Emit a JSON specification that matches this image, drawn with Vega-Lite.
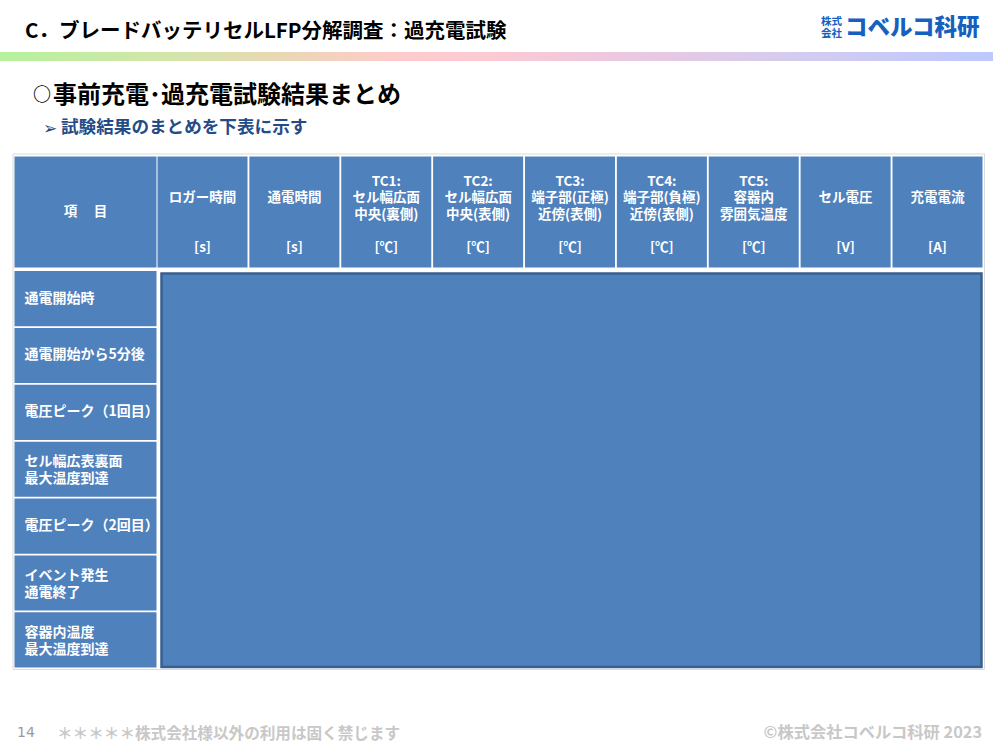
{
  "$schema": "https://vega.github.io/schema/vega-lite/v6.json",
  "width": 1000,
  "height": 750,
  "autosize": {"type": "none"},
  "padding": 0,
  "background": "#ffffff",
  "config": {"view": {"stroke": null}, "font": "Noto Sans CJK JP", "text": {"font": "Noto Sans CJK JP"}},
  "datasets": {
    "columns": [
      {"col": "ロガー時間", "label": "ロガー時間", "unit": "[s]"},
      {"col": "通電時間", "label": "通電時間", "unit": "[s]"},
      {"col": "TC1", "label": "TC1:\nセル幅広面\n中央(裏側)", "unit": "[℃]"},
      {"col": "TC2", "label": "TC2:\nセル幅広面\n中央(表側)", "unit": "[℃]"},
      {"col": "TC3", "label": "TC3:\n端子部(正極)\n近傍(表側)", "unit": "[℃]"},
      {"col": "TC4", "label": "TC4:\n端子部(負極)\n近傍(表側)", "unit": "[℃]"},
      {"col": "TC5", "label": "TC5:\n容器内\n雰囲気温度", "unit": "[℃]"},
      {"col": "セル電圧", "label": "セル電圧", "unit": "[V]"},
      {"col": "充電電流", "label": "充電電流", "unit": "[A]"}
    ],
    "rows": [
      {"row": "通電開始時"},
      {"row": "通電開始から5分後"},
      {"row": "電圧ピーク（1回目）"},
      {"row": "セル幅広表裏面\n最大温度到達"},
      {"row": "電圧ピーク（2回目）"},
      {"row": "イベント発生\n通電終了"},
      {"row": "容器内温度\n最大温度到達"}
    ],
    "merged": [
      {"from": "ロガー時間", "to": "充電電流", "top": "通電開始時", "bottom": "容器内温度\n最大温度到達"}
    ]
  },
  "layer": [
    {
      "data": {"values": [{}]},
      "mark": {"type": "rect", "color": {"gradient": "linear", "x1": 0, "y1": 0, "x2": 1, "y2": 0, "stops": [
        {"offset": 0, "color": "#b6f19e"},
        {"offset": 0.17, "color": "#d2e6a9"},
        {"offset": 0.28, "color": "#e8d8b4"},
        {"offset": 0.4, "color": "#ffcbcb"},
        {"offset": 0.5, "color": "#fbcad4"},
        {"offset": 0.65, "color": "#e8c8e2"},
        {"offset": 0.8, "color": "#d4ccef"},
        {"offset": 1, "color": "#bcc8ff"}
      ]}},
      "encoding": {"x": {"value": 0}, "x2": {"value": 993}, "y": {"value": 52}, "y2": {"value": 61}}
    },
    {
      "data": {"values": [{"t": "C．ブレードバッテリセルLFP分解調査：過充電試験"}]},
      "mark": {"type": "text", "align": "left", "baseline": "middle", "fontSize": 20.5, "fontWeight": "bold", "color": "#000000"},
      "encoding": {"text": {"field": "t"}, "x": {"value": 25}, "y": {"value": 32}}
    },
    {
      "data": {"values": [{"t": "株式\n会社"}]},
      "mark": {"type": "text", "align": "left", "baseline": "middle", "fontSize": 10.5, "fontWeight": "bold", "lineHeight": 11.5, "lineBreak": "\n", "color": "#1660c0"},
      "encoding": {"text": {"field": "t"}, "x": {"value": 821}, "y": {"value": 22}}
    },
    {
      "data": {"values": [{"t": "コベルコ科研"}]},
      "mark": {"type": "text", "align": "left", "baseline": "middle", "fontSize": 22.5, "fontWeight": 900, "color": "#1660c0"},
      "encoding": {"text": {"field": "t"}, "x": {"value": 845}, "y": {"value": 27.5}}
    },
    {
      "data": {"values": [{"t": "○"}]},
      "mark": {"type": "text", "align": "left", "baseline": "middle", "fontSize": 18, "fontWeight": "bold", "color": "#000000"},
      "encoding": {"text": {"field": "t"}, "x": {"value": 33}, "y": {"value": 96}}
    },
    {
      "data": {"values": [{"t": "事前充電･過充電試験結果まとめ"}]},
      "mark": {"type": "text", "align": "left", "baseline": "middle", "fontSize": 24, "fontWeight": "bold", "color": "#000000"},
      "encoding": {"text": {"field": "t"}, "x": {"value": 53}, "y": {"value": 96}}
    },
    {
      "data": {"values": [{"t": "➢"}]},
      "mark": {"type": "text", "align": "left", "baseline": "middle", "fontSize": 17, "font": "DejaVu Sans", "color": "#1f497d"},
      "encoding": {"text": {"field": "t"}, "x": {"value": 43}, "y": {"value": 129}}
    },
    {
      "data": {"values": [{"t": "試験結果のまとめを下表に示す"}]},
      "mark": {"type": "text", "align": "left", "baseline": "middle", "fontSize": 17.6, "fontWeight": "bold", "color": "#254b87"},
      "encoding": {"text": {"field": "t"}, "x": {"value": 61}, "y": {"value": 128}}
    },
    {
      "data": {"values": [{}]},
      "mark": {"type": "rect", "filled": false, "stroke": "#dadada", "strokeWidth": 1},
      "encoding": {"x": {"value": 13}, "x2": {"value": 984.5}, "y": {"value": 154}, "y2": {"value": 669.5}}
    },
    {
      "data": {"name": "columns"},
      "mark": {"type": "rect", "color": "#4f81bd"},
      "encoding": {
        "x": {"field": "col", "type": "nominal", "axis": null, "sort": null,
              "scale": {"type": "band", "domain": ["ロガー時間", "通電時間", "TC1", "TC2", "TC3", "TC4", "TC5", "セル電圧", "充電電流"], "range": [157.5, 982.5], "paddingInner": 0.02, "paddingOuter": 0}},
        "y": {"datum": "見出し", "type": "nominal", "axis": null,
              "scale": {"type": "band", "domain": ["見出し"], "range": [156.5, 267.5], "paddingInner": 0, "paddingOuter": 0}}
      }
    },
    {
      "data": {"name": "columns"},
      "transform": [{"filter": "indexof(datum.label, '\\n') < 0"}],
      "mark": {"type": "text", "align": "center", "baseline": "middle", "fontSize": 13.5, "fontWeight": "bold", "color": "#ffffff", "dy": -14.5},
      "encoding": {
        "text": {"field": "label"},
        "x": {"field": "col", "type": "nominal", "axis": null, "sort": null,
              "scale": {"type": "band", "domain": ["ロガー時間", "通電時間", "TC1", "TC2", "TC3", "TC4", "TC5", "セル電圧", "充電電流"], "range": [157.5, 982.5], "paddingInner": 0.02, "paddingOuter": 0}},
        "y": {"datum": "見出し", "type": "nominal", "axis": null,
              "scale": {"type": "band", "domain": ["見出し"], "range": [156.5, 267.5], "paddingInner": 0, "paddingOuter": 0}}
      }
    },
    {
      "data": {"name": "columns"},
      "transform": [{"filter": "indexof(datum.label, '\\n') >= 0"}],
      "mark": {"type": "text", "align": "center", "baseline": "middle", "fontSize": 13.5, "fontWeight": "bold", "color": "#ffffff", "lineBreak": "\n", "lineHeight": 16.5, "dy": -30.5},
      "encoding": {
        "text": {"field": "label"},
        "x": {"field": "col", "type": "nominal", "axis": null, "sort": null,
              "scale": {"type": "band", "domain": ["ロガー時間", "通電時間", "TC1", "TC2", "TC3", "TC4", "TC5", "セル電圧", "充電電流"], "range": [157.5, 982.5], "paddingInner": 0.02, "paddingOuter": 0}},
        "y": {"datum": "見出し", "type": "nominal", "axis": null,
              "scale": {"type": "band", "domain": ["見出し"], "range": [156.5, 267.5], "paddingInner": 0, "paddingOuter": 0}}
      }
    },
    {
      "data": {"name": "columns"},
      "mark": {"type": "text", "align": "center", "baseline": "middle", "fontSize": 13.5, "fontWeight": "bold", "color": "#ffffff", "dy": 35.5},
      "encoding": {
        "text": {"field": "unit"},
        "x": {"field": "col", "type": "nominal", "axis": null, "sort": null,
              "scale": {"type": "band", "domain": ["ロガー時間", "通電時間", "TC1", "TC2", "TC3", "TC4", "TC5", "セル電圧", "充電電流"], "range": [157.5, 982.5], "paddingInner": 0.02, "paddingOuter": 0}},
        "y": {"datum": "見出し", "type": "nominal", "axis": null,
              "scale": {"type": "band", "domain": ["見出し"], "range": [156.5, 267.5], "paddingInner": 0, "paddingOuter": 0}}
      }
    },
    {
      "data": {"values": [{"item": "項　 目"}]},
      "mark": {"type": "rect", "color": "#4f81bd"},
      "encoding": {
        "x": {"field": "item", "type": "nominal", "axis": null,
              "scale": {"type": "band", "domain": ["項　 目"], "range": [14.5, 156.5], "paddingInner": 0, "paddingOuter": 0}},
        "y": {"datum": "見出し", "type": "nominal", "axis": null,
              "scale": {"type": "band", "domain": ["見出し"], "range": [156.5, 267.5], "paddingInner": 0, "paddingOuter": 0}}
      }
    },
    {
      "data": {"values": [{"item": "項　 目"}]},
      "mark": {"type": "text", "align": "center", "baseline": "middle", "fontSize": 13.5, "fontWeight": "bold", "color": "#ffffff"},
      "encoding": {
        "text": {"field": "item"},
        "x": {"field": "item", "type": "nominal", "axis": null,
              "scale": {"type": "band", "domain": ["項　 目"], "range": [14.5, 156.5], "paddingInner": 0, "paddingOuter": 0}},
        "y": {"datum": "見出し", "type": "nominal", "axis": null,
              "scale": {"type": "band", "domain": ["見出し"], "range": [156.5, 267.5], "paddingInner": 0, "paddingOuter": 0}}
      }
    },
    {
      "data": {"name": "rows"},
      "mark": {"type": "rect", "color": "#4f81bd"},
      "encoding": {
        "x": {"datum": "項　 目", "type": "nominal", "axis": null,
              "scale": {"type": "band", "domain": ["項　 目"], "range": [14.5, 156.5], "paddingInner": 0, "paddingOuter": 0}},
        "y": {"field": "row", "type": "nominal", "axis": null, "sort": null,
              "scale": {"type": "band", "domain": ["通電開始時", "通電開始から5分後", "電圧ピーク（1回目）", "セル幅広表裏面\n最大温度到達", "電圧ピーク（2回目）", "イベント発生\n通電終了", "容器内温度\n最大温度到達"], "range": [271, 667.5], "paddingInner": 0.03, "paddingOuter": 0}}
      }
    },
    {
      "data": {"name": "rows"},
      "transform": [{"filter": "indexof(datum.row, '\\n') < 0"}],
      "mark": {"type": "text", "align": "left", "baseline": "middle", "fontSize": 14, "fontWeight": "bold", "color": "#ffffff", "dx": 10},
      "encoding": {
        "text": {"field": "row"},
        "x": {"datum": "項　 目", "type": "nominal", "axis": null, "bandPosition": 0,
              "scale": {"type": "band", "domain": ["項　 目"], "range": [14.5, 156.5], "paddingInner": 0, "paddingOuter": 0}},
        "y": {"field": "row", "type": "nominal", "axis": null, "sort": null,
              "scale": {"type": "band", "domain": ["通電開始時", "通電開始から5分後", "電圧ピーク（1回目）", "セル幅広表裏面\n最大温度到達", "電圧ピーク（2回目）", "イベント発生\n通電終了", "容器内温度\n最大温度到達"], "range": [271, 667.5], "paddingInner": 0.03, "paddingOuter": 0}}
      }
    },
    {
      "data": {"name": "rows"},
      "transform": [{"filter": "indexof(datum.row, '\\n') >= 0"}],
      "mark": {"type": "text", "align": "left", "baseline": "middle", "fontSize": 14, "fontWeight": "bold", "color": "#ffffff", "lineBreak": "\n", "lineHeight": 16.7, "dx": 10, "dy": -7},
      "encoding": {
        "text": {"field": "row"},
        "x": {"datum": "項　 目", "type": "nominal", "axis": null, "bandPosition": 0,
              "scale": {"type": "band", "domain": ["項　 目"], "range": [14.5, 156.5], "paddingInner": 0, "paddingOuter": 0}},
        "y": {"field": "row", "type": "nominal", "axis": null, "sort": null,
              "scale": {"type": "band", "domain": ["通電開始時", "通電開始から5分後", "電圧ピーク（1回目）", "セル幅広表裏面\n最大温度到達", "電圧ピーク（2回目）", "イベント発生\n通電終了", "容器内温度\n最大温度到達"], "range": [271, 667.5], "paddingInner": 0.03, "paddingOuter": 0}}
      }
    },
    {
      "data": {"name": "merged"},
      "mark": {"type": "rect", "color": "#4f81bd", "stroke": "#3a5f8e", "strokeWidth": 2.5, "xOffset": 4, "x2Offset": -1, "yOffset": 2.5, "y2Offset": -0.5},
      "encoding": {
        "x": {"field": "from", "type": "nominal", "axis": null, "bandPosition": 0,
              "scale": {"type": "band", "domain": ["ロガー時間", "通電時間", "TC1", "TC2", "TC3", "TC4", "TC5", "セル電圧", "充電電流"], "range": [157.5, 982.5], "paddingInner": 0.02, "paddingOuter": 0}},
        "x2": {"field": "to", "bandPosition": 1},
        "y": {"field": "top", "type": "nominal", "axis": null, "bandPosition": 0,
              "scale": {"type": "band", "domain": ["通電開始時", "通電開始から5分後", "電圧ピーク（1回目）", "セル幅広表裏面\n最大温度到達", "電圧ピーク（2回目）", "イベント発生\n通電終了", "容器内温度\n最大温度到達"], "range": [271, 667.5], "paddingInner": 0.03, "paddingOuter": 0}},
        "y2": {"field": "bottom", "bandPosition": 1}
      }
    },
    {
      "data": {"values": [{"t": "14"}]},
      "mark": {"type": "text", "align": "left", "baseline": "middle", "fontSize": 14, "font": "DejaVu Sans", "color": "#9a9a9a"},
      "encoding": {"text": {"field": "t"}, "x": {"value": 17}, "y": {"value": 733}}
    },
    {
      "data": {"values": [{"t": "＊＊＊＊＊株式会社様以外の利用は固く禁じます"}]},
      "mark": {"type": "text", "align": "left", "baseline": "middle", "fontSize": 15.6, "fontWeight": "bold", "color": "#c8c8c8"},
      "encoding": {"text": {"field": "t"}, "x": {"value": 57}, "y": {"value": 734}}
    },
    {
      "data": {"values": [{"t": "©株式会社コベルコ科研 2023"}]},
      "mark": {"type": "text", "align": "right", "baseline": "middle", "fontSize": 16.3, "fontWeight": "bold", "color": "#c8c8c8"},
      "encoding": {"text": {"field": "t"}, "x": {"value": 982}, "y": {"value": 733}}
    }
  ],
  "resolve": {"scale": {"x": "independent", "y": "independent"}}
}
